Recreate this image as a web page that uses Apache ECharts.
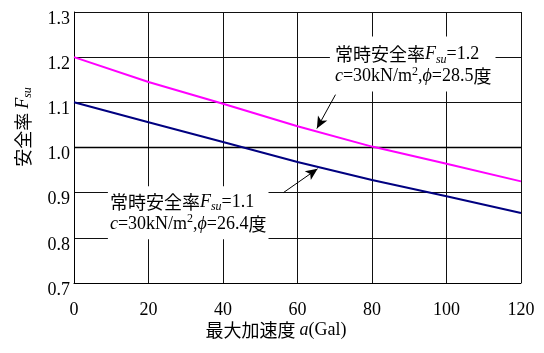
<!DOCTYPE html>
<html><head><meta charset="utf-8">
<script src="https://cdn.jsdelivr.net/npm/echarts@6/dist/echarts.min.js"></script>
<style>html,body{margin:0;padding:0;background:#fff}#c{width:544px;height:353px}</style>
</head><body><div id="c"></div>
<script>
var xValues = [0, 20, 40, 60, 80, 100, 120];
var fsu12 = [1.200, 1.145, 1.097, 1.047, 1.002, 0.964, 0.925];
var fsu11 = [1.100, 1.056, 1.012, 0.968, 0.928, 0.892, 0.855];
var yTicks = [0.7, 0.8, 0.9, 1.0, 1.1, 1.2, 1.3];
var xTicks = [0, 20, 40, 60, 80, 100, 120];

var serif = '"Liberation Serif","Times New Roman",serif';
var cjk = '"Noto Sans CJK JP","Noto Sans",sans-serif';

function pairs(ys){ return xValues.map(function(x,i){ return [x, ys[i]]; }); }

var chart = echarts.init(document.getElementById('c'), null, {renderer:'canvas'});
chart.setOption({
  animation:false,
  grid:{left:74, right:23, top:12, bottom:70, show:false},
  xAxis:{type:'value', min:xTicks[0], max:xTicks[xTicks.length-1], interval:20,
    axisLine:{show:true, onZero:false, lineStyle:{color:'#000', width:1}},
    axisTick:{show:false},
    splitLine:{show:true, lineStyle:{color:'#111', width:1}},
    axisLabel:{margin:18, color:'#000', fontFamily:serif, fontSize:18}},
  yAxis:{type:'value', min:yTicks[0], max:yTicks[yTicks.length-1], interval:0.1,
    axisLine:{show:true, lineStyle:{color:'#000', width:1}},
    axisTick:{show:false},
    splitLine:{show:true, lineStyle:{color:'#111', width:1}},
    axisLabel:{margin:4, color:'#000', fontFamily:serif, fontSize:18,
      verticalAlign:'top', lineHeight:14,
      formatter:function(v){ return v.toFixed(1); }}},
  series:[
    {type:'line', data:pairs(fsu12), symbol:'none', z:5,
     lineStyle:{color:'#ff00ff', width:2},
     markLine:{silent:true, symbol:['none','arrow'], symbolSize:[8,12],
       lineStyle:{color:'#000', width:1, type:'solid'}, label:{show:false},
       data:[[{coord:[70.2,1.117]},{coord:[65.2,1.042]}]]}},
    {type:'line', data:pairs(fsu11), symbol:'none', z:5,
     lineStyle:{color:'#000080', width:2},
     markLine:{silent:true, symbol:['none','arrow'], symbolSize:[8,12],
       lineStyle:{color:'#000', width:1, type:'solid'}, label:{show:false},
       data:[[{coord:[56.2,0.900]},{coord:[65.4,0.953]}]]}},
    {type:'line', data:[[0,1.0],[120,1.0]], symbol:'none', z:3, silent:true,
     lineStyle:{color:'#000', width:1.6}}
  ]
});

var rich = {
  k:{fontFamily:cjk, fontSize:18, color:'#000', lineHeight:22},
  t:{fontFamily:serif, fontSize:18, color:'#000', lineHeight:22},
  i:{fontFamily:serif, fontSize:18, fontStyle:'italic', color:'#000', lineHeight:22},
  sub:{fontFamily:serif, fontSize:12, fontStyle:'italic', color:'#000', lineHeight:12, verticalAlign:'bottom'},
  sup:{fontFamily:serif, fontSize:12, color:'#000', lineHeight:12, verticalAlign:'top'}
};
var up = chart.convertToPixel({gridIndex:0}, [68.7, 1.2456]);
var lo = chart.convertToPixel({gridIndex:0}, [9.1, 0.914]);
chart.setOption({graphic:[
  {type:'text', left:up[0], top:up[1], z:20, style:{
    text:'{k|常時安全率}{i|F}{sub|su}{t|=1.2}\n{i|c}{t|=30kN/m}{sup|2}{t|,}{i|ϕ}{t|=28.5}{k|度}',
    rich:rich, backgroundColor:'#fff', padding:[7,4,4,5]}},
  {type:'text', left:lo[0], top:lo[1], z:20, style:{
    text:'{k|常時安全率}{i|F}{sub|su}{t|=1.1}\n{i|c}{t|=30kN/m}{sup|2}{t|,}{i|ϕ}{t|=26.4}{k|度}',
    rich:rich, backgroundColor:'#fff', padding:[5,2,4,2]}},
  {type:'text', x:276, y:330, z:20, style:{
    text:'{k|最大加速度 }{i|a}{t|(Gal)}', rich:rich, align:'center', verticalAlign:'middle'}},
  {type:'text', x:23, y:127, rotation:Math.PI/2, z:20, style:{
    text:'{k|安全率 }{i|F}{sub|su}', rich:rich, align:'center', verticalAlign:'middle'}}
]});
</script></body></html>
